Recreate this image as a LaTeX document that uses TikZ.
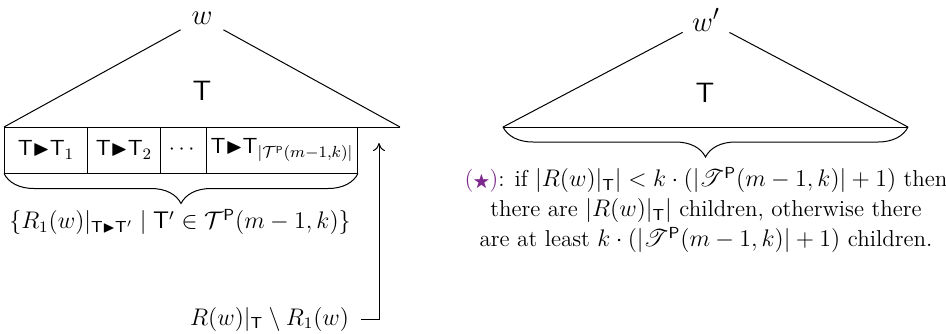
\documentclass[tikz,border=0pt]{standalone}
\usepackage{amsmath,amssymb,mathrsfs}
\usetikzlibrary{decorations.pathreplacing,arrows.meta}
\definecolor{starpurple}{RGB}{125,40,140}
\newcommand{\Tsf}{\mathsf{T}}
\newcommand{\tri}{{\blacktriangleright}}
\tikzset{
  apex/.style={circle,inner sep=0pt,minimum size=24pt,font=\fontsize{15}{17}\selectfont},
  cellbox/.style={draw,anchor=west,inner sep=0pt,minimum height=23pt,font=\fontsize{11}{13}\selectfont},
  bigT/.style={font=\fontsize{14}{16}\sffamily\selectfont},
  brc/.style={decorate,decoration={brace,amplitude=15pt}},
  lbl/.style={font=\fontsize{11.5}{15}\selectfont},
}
\begin{document}
\begin{tikzpicture}[x=0.5pt,y=-0.5pt,line width=0.5pt]
\useasboundingbox (0,0) rectangle (946,333);
% left tree
\node[apex] (w) at (202,18) {$w$};
\coordinate (L1) at (4,127);
\coordinate (R1) at (400,127);
\draw (L1) -- (w);
\draw (w) -- (R1);
\draw (L1) -- (R1);
\node[bigT] (T1) at (202,91) {T};
\node[cellbox,minimum width=41.5pt] (c1) at (4,150) {$\Tsf\tri\Tsf_1$};
\node[cellbox,minimum width=36.5pt] (c2) at (87,150) {$\Tsf\tri\Tsf_2$};
\node[cellbox,minimum width=23pt] (c3) at (160,150) {$\cdots$};
\node[cellbox,minimum width=75.5pt] (c4) at (206,150) {$\Tsf\tri\Tsf_{|\mathcal{T}^{\mathsf{P}}(m-1,k)|}$};
\draw[brc] (c4.south east) -- (c1.south west);
\node[lbl] (b1) at (180,222) {$\{R_1(w)|_{\Tsf\tri\Tsf'} \mid \Tsf' \in \mathcal{T}^{\mathsf{P}}(m-1,k)\}$};
% arrow
\node[lbl,anchor=east,inner sep=0pt,outer xsep=6pt] (rl) at (361,319) {$R(w)|_{\Tsf} \setminus R_1(w)$};
\coordinate (ah) at (379,143);
\draw[-{To[length=4pt,width=6pt]}] (rl) -| (ah);
% right tree
\node[apex,minimum size=26pt] (w2) at (706,20) {$w'$};
\coordinate (L2) at (503,127);
\coordinate (R2) at (908,127);
\draw (L2) -- (w2);
\draw (w2) -- (R2);
\draw (L2) -- (R2);
\node[bigT] (T2) at (705,93) {T};
\draw[brc] (R2) -- (L2);
\node[lbl,align=center,anchor=north] (txt) at (706,160) {%
\textcolor{starpurple}{(\raisebox{0.1ex}{\scalebox{0.75}{$\bigstar$}})}: if $|R(w)|_{\Tsf}| < k\cdot(|\mathscr{T}^{\mathsf{P}}(m-1,k)|+1)$ then\\
there are $|R(w)|_{\Tsf}|$ children, otherwise there\\
are at least $k\cdot(|\mathscr{T}^{\mathsf{P}}(m-1,k)|+1)$ children.};
\end{tikzpicture}
\end{document}
